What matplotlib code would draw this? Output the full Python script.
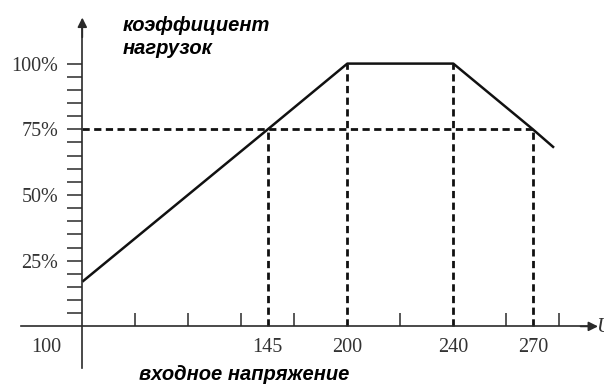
import numpy as np
import matplotlib
matplotlib.use("Agg")
import matplotlib.pyplot as plt
from matplotlib.ticker import FixedLocator, NullFormatter

# ---- data ----
curve_v = [100, 145, 200, 240, 270, 278]      # input voltage, V
curve_load = [17, 75, 100, 100, 75, 68]        # load coefficient, %
guide_v = [145, 200, 240, 270]                 # marked voltages
guide_load = [75, 100, 100, 75]
ref_load = 75
x_tick_labels = ["145", "200", "240", "270"]
y_ticks = [25, 50, 75, 100]
y_tick_labels = ["25%", "50%", "75%", "100%"]
origin_label = "100"
y_title_lines = ["коэффициент", "нагрузок"]
x_title = "входное напряжение"

# ---- schematic (non-uniform) voltage axis ----
knot_v = np.array([100, 145, 200, 240, 270], float)
knot_u = np.array([0, 3.5, 5, 7, 8.5], float)


def _pw(a, xs, ys):
    a = np.asarray(a, float)
    out = np.interp(a, xs, ys)
    lo = ys[0] + (a - xs[0]) * (ys[1] - ys[0]) / (xs[1] - xs[0])
    hi = ys[-1] + (a - xs[-1]) * (ys[-1] - ys[-2]) / (xs[-1] - xs[-2])
    out = np.where(a < xs[0], lo, out)
    out = np.where(a > xs[-1], hi, out)
    return out


def fwd(v):
    return _pw(v, knot_v, knot_u)


def inv(u):
    return _pw(u, knot_u, knot_v)


fig = plt.figure(figsize=(6.04, 3.85), dpi=100)
ax = fig.add_axes([0, 0, 1, 1])
ax.set_xscale("function", functions=(fwd, inv))
ax.set_xlim(float(inv(-1.553)), float(inv(9.843)))
ax.set_ylim(-22.3, 124.2)

axis_col = "#2a2a2a"
for s in ["top", "right"]:
    ax.spines[s].set_visible(False)
ax.spines["left"].set_position(("data", knot_v[0]))
ax.spines["bottom"].set_position(("data", 0))
ax.spines["left"].set_bounds(-15.9, 114)
ax.spines["bottom"].set_bounds(float(inv(-1.157)), float(inv(9.55)))
for s in ["left", "bottom"]:
    ax.spines[s].set_color(axis_col)
    ax.spines[s].set_linewidth(1.2)

# arrow heads
ax.annotate("", xy=(knot_v[0], 117.5), xytext=(knot_v[0], 110),
            arrowprops=dict(arrowstyle="-|>", color=axis_col, lw=1.2,
                            mutation_scale=14, shrinkA=0, shrinkB=0),
            annotation_clip=False)
ax.annotate("", xy=(float(inv(9.73)), 0), xytext=(float(inv(9.4)), 0),
            arrowprops=dict(arrowstyle="-|>", color=axis_col, lw=1.2,
                            mutation_scale=14, shrinkA=0, shrinkB=0),
            annotation_clip=False)

serif = ["Liberation Serif", "DejaVu Serif"]

# y ticks
ax.yaxis.set_major_locator(FixedLocator(y_ticks))
ax.set_yticklabels(y_tick_labels, fontfamily=serif, fontsize=14.5, color="#333333")
ax.yaxis.set_minor_locator(FixedLocator([v for v in range(5, 100, 5) if v not in y_ticks]))
ax.tick_params(axis="y", which="both", direction="out", length=11, width=1.1,
               color=axis_col, pad=6.5)

# x ticks
ax.xaxis.set_major_locator(FixedLocator(guide_v))
ax.set_xticklabels(x_tick_labels, fontfamily=serif, fontsize=14.5, color="#333333")
ax.xaxis.set_minor_locator(FixedLocator(list(inv(np.arange(1, 10)))))
ax.xaxis.set_minor_formatter(NullFormatter())
ax.tick_params(axis="x", which="major", direction="in", length=0, pad=8.5)
ax.tick_params(axis="x", which="minor", direction="in", length=9.5, width=1.1,
               color=axis_col)

ax.annotate(origin_label, xy=(knot_v[0], 0), xytext=(-26, -8.5),
            textcoords="offset points", ha="center", va="top",
            fontfamily=serif, fontsize=14.5, color="#333333")

# guides
dash = (0, (2.6, 1.6))
ax.vlines(guide_v, 0, guide_load, colors="#111111", linestyles=dash, linewidth=2.0)
ax.hlines(ref_load, knot_v[0], guide_v[-1], colors="#111111", linestyles=dash, linewidth=2.0)

# curve
ax.plot(curve_v, curve_load, color="#111111", linewidth=1.8, solid_capstyle="butt")

# titles
sans = ["Liberation Sans", "DejaVu Sans"]
for line, base in zip(y_title_lines, [31, 54]):
    fig.text(123 / 604, 1 - base / 385, line, ha="left", va="baseline", fontfamily=sans,
             fontsize=14.5, fontweight="bold", fontstyle="italic")
fig.text(139 / 604, 1 - 380 / 385, x_title, ha="left", va="baseline", fontfamily=sans,
         fontsize=14.5, fontweight="bold", fontstyle="italic")
fig.text(596 / 604, 1 - 327 / 385, "U", ha="left", va="center", fontfamily=serif,
         fontsize=15, fontstyle="italic", color="#333333")

fig.savefig("out.png", dpi=100)
